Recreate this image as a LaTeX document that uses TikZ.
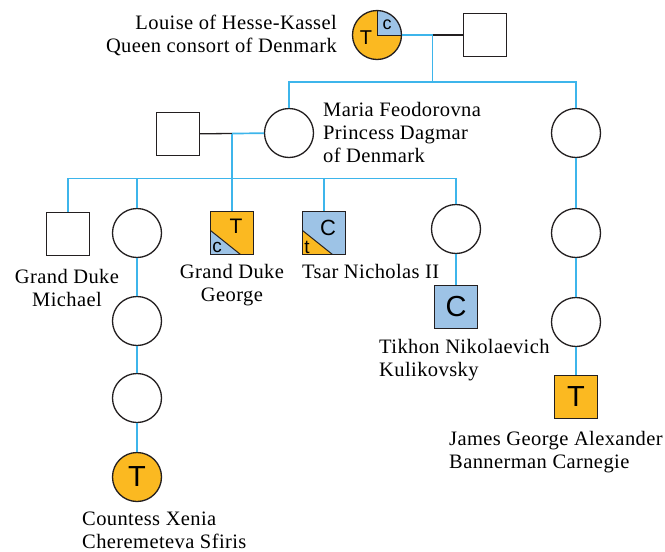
\documentclass[tikz,border=0pt]{standalone}
\usepackage{fontspec}
\setmainfont{Liberation Serif}[LetterSpace=2]
\setsansfont{Liberation Sans}
\usetikzlibrary{calc}
\definecolor{tcol}{HTML}{FBB921}
\definecolor{ccol}{HTML}{9DC3E6}
\definecolor{kcol}{HTML}{3DB5EB}
\definecolor{ecol}{HTML}{231F20}

\begin{document}
\begin{tikzpicture}[x=1pt,y=-1pt,
    every node/.style={inner sep=0pt},
    male/.style={draw=ecol,line width=1.3pt,minimum size=43pt,fill=white},
    female/.style={circle,draw=ecol,line width=1.3pt,minimum size=49pt,fill=white},
    kin/.style={kcol,line width=1.7pt},
    wed/.style={ecol,line width=1.3pt},
    lbl/.style={font=\fontsize{20.5}{23}\selectfont,align=left},
    sym/.style={font=\sffamily\fontsize{#1}{#1}\selectfont},
    lowtri/.style={path picture={
        \fill[#1] (path picture bounding box.south west) -- ++(0,-24) -- ++(30,24) -- cycle;
        \draw[wed,line width=1pt] (path picture bounding box.south west) ++(0,-24) -- ++(30,24);}},
    quarter/.style={path picture={
        \fill[#1] (path picture bounding box.center) rectangle (path picture bounding box.north east);
        \draw[wed,line width=1pt] (path picture bounding box.north) |- (path picture bounding box.east);}}
  ]
  \useasboundingbox (0,0) rectangle (665,552);

  \node[female,fill=tcol,quarter=ccol] (louise) at (377,35) {};
  \node[male] (louiseH) at (485,35) {};
  \node[female] (maria) at (289,133) {};
  \node[male] (mariaH) at (178,134) {};
  \node[male] (michael) at (68,234) {};
  \node[female] (dau) at (137,233) {};
  \node[male,fill=tcol,lowtri=ccol] (george) at (232,233) {};
  \node[male,fill=ccol,lowtri=tcol] (nicholas) at (324,233) {};
  \node[female] (dau2) at (456,229) {};
  \node[male,fill=ccol] (tikhon) at (456,307) {};
  \foreach \n/\y in {lc2/321,lc3/398} \node[female] (\n) at (137,\y) {};
  \node[female,fill=tcol] (xenia) at (137,477) {};
  \foreach \n/\y in {rc1/133,rc2/233,rc3/322} \node[female] (\n) at (576,\y) {};
  \node[male,fill=tcol] (james) at (576,397) {};

  \node[sym=20] (louise-t) at ([shift={(-11,3)}]louise.center) {T};
  \node[sym=18] (louise-c) at ([shift={(10,-10)}]louise.center) {c};
  \node[sym=21] (george-t) at ([shift={(4,-7)}]george.center) {T};
  \node[sym=19] (george-c) at ([shift={(-15,14)}]george.center) {c};
  \node[sym=22] (nicholas-c) at ([shift={(4,-5)}]nicholas.center) {C};
  \node[sym=19] (nicholas-t) at ([shift={(-17,14)}]nicholas.center) {t};
  \node[sym=29] (tikhon-c) at (tikhon) {C};
  \node[sym=29] (xenia-t) at (xenia) {T};
  \node[sym=29] (james-t) at (james) {T};

  \coordinate (jL) at ($(louise.east)!.5!(louiseH.west)$);
  \coordinate (jM) at ($(mariaH.east)!.5!(maria.west)$);
  \coordinate (barL) at ($(jL)+(0,47)$);
  \coordinate (barM) at ($(jM)+(0,45)$);
  \draw[kin] (louise) -- (jL);
  \draw[wed] (jL) -- (louiseH);
  \draw[wed] (mariaH) -- (jM);
  \draw[kin] (jM) -- (maria);
  \draw[kin] (jL) -- (barL);
  \draw[kin] (maria) |- (barL) -| (rc1);
  \draw[kin] (jM) -- (george);
  \draw[kin] (michael) |- (barM) -| (dau2);
  \foreach \c in {dau,nicholas} \draw[kin] (\c) -- (\c |- barM);
  \foreach \a/\b in {dau/lc2,lc2/lc3,lc3/xenia,dau2/tikhon,rc1/rc2,rc2/rc3,rc3/james}
    \draw[kin] (\a) -- (\b);

  \node[lbl,align=right,anchor=base east] (louise-lbl) at (337,52) {Louise of Hesse-Kassel\\Queen consort of Denmark};
  \node[lbl,anchor=base west] (maria-lbl) at (323,162) {Maria Feodorovna\\Princess Dagmar\\of Denmark};
  \node[lbl,align=center,anchor=base] (michael-lbl) at (67,306) {Grand Duke\\Michael};
  \node[lbl,align=center,anchor=base] (george-lbl) at (232,301) {Grand Duke\\George};
  \node[lbl,anchor=base west] (nicholas-lbl) at (302,278) {Tsar Nicholas II};
  \node[lbl,anchor=base west] (tikhon-lbl) at (379,376) {Tikhon Nikolaevich\\Kulikovsky};
  \node[lbl,anchor=base west] (james-lbl) at (449,468) {James George Alexander\\Bannerman Carnegie};
  \node[lbl,anchor=base west] (xenia-lbl) at (82,548) {Countess Xenia\\Cheremeteva Sfiris};
\end{tikzpicture}
\end{document}
